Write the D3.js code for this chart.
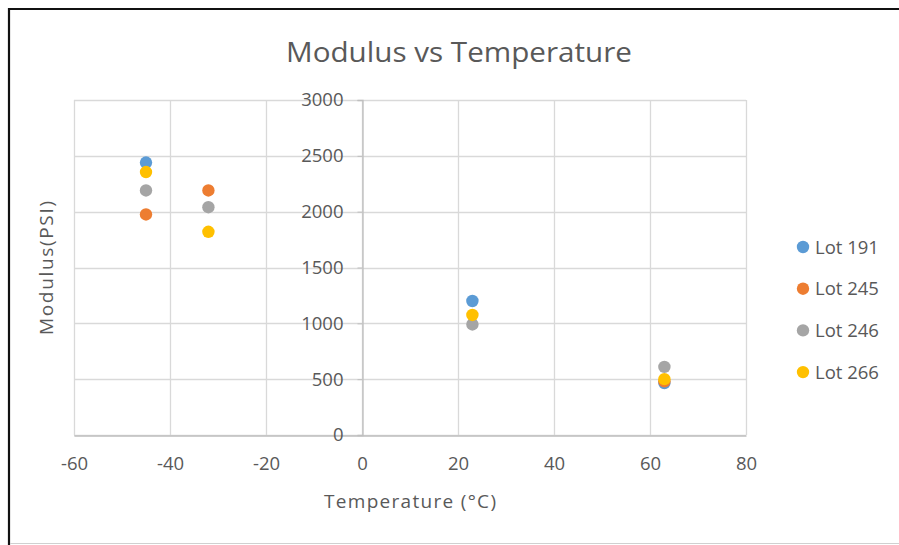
<!DOCTYPE html>
<html>
<head>
<meta charset="utf-8">
<script src="https://cdn.jsdelivr.net/npm/d3@7"></script>
<style>
  html, body { margin: 0; padding: 0; background: #fff; }
  svg { display: block; font-family: "Open Sans", "Noto Sans", sans-serif; }
</style>
</head>
<body>
<svg id="chart" width="899" height="545"></svg>
<script>
// Modulus measurements per lot at each test temperature
const temperatures = [-45, -32, 23, 63];
const lots = ["Lot 191", "Lot 245", "Lot 246", "Lot 266"];
const lot191 = [2440, null, 1200, 465];
const lot245 = [1975, 2190, null, 480];
const lot246 = [2190, 2040, 990, 610];
const lot266 = [2355, 1820, 1075, 500];
const lotColors = ["#5B9BD5", "#ED7D31", "#A5A5A5", "#FFC000"];
const xTicks = [-60, -40, -20, 0, 20, 40, 60, 80];
const yTicks = [0, 500, 1000, 1500, 2000, 2500, 3000];

const seriesValues = [lot191, lot245, lot246, lot266];
const series = lots.map((name, i) => ({
  name,
  color: lotColors[i],
  points: temperatures
    .map((t, j) => ({ t, v: seriesValues[i][j] }))
    .filter(d => d.v !== null)
}));

const svg = d3.select("#chart");
const textColor = "#595959";
const gridColor = "#D9D9D9";
const plainNumber = d => String(d);

// outer frame
svg.append("line").attr("x1", 8).attr("x2", 899).attr("y1", 9).attr("y2", 9)
  .attr("stroke", "#111").attr("stroke-width", 2.2);
svg.append("line").attr("x1", 9).attr("x2", 9).attr("y1", 8).attr("y2", 545)
  .attr("stroke", "#111").attr("stroke-width", 2.2);
svg.append("line").attr("x1", 10).attr("x2", 899).attr("y1", 543.5).attr("y2", 543.5)
  .attr("stroke", "#D0D0D0").attr("stroke-width", 1);

const plot = { left: 74, right: 746, top: 100, bottom: 435 };
const x = d3.scaleLinear().domain([-60, 80]).range([plot.left, plot.right]);
const y = d3.scaleLinear().domain([0, 3000]).range([plot.bottom, plot.top]);

// gridlines
const grid = svg.append("g");
grid.selectAll("line.h").data(yTicks).join("line")
  .attr("x1", plot.left).attr("x2", plot.right)
  .attr("y1", d => Math.round(y(d)) + 0.5).attr("y2", d => Math.round(y(d)) + 0.5)
  .attr("stroke", gridColor).attr("stroke-width", 1.3);
grid.selectAll("line.v").data(xTicks).join("line")
  .attr("y1", plot.top).attr("y2", plot.bottom)
  .attr("x1", d => Math.round(x(d)) + 0.5).attr("x2", d => Math.round(x(d)) + 0.5)
  .attr("stroke", gridColor).attr("stroke-width", 1.3);

// bottom axis
const xAxis = svg.append("g")
  .attr("transform", `translate(0,${plot.bottom + 0.5})`)
  .call(d3.axisBottom(x).tickValues(xTicks).tickSize(0).tickPadding(21).tickFormat(plainNumber));
xAxis.select(".domain").attr("stroke", "#BFBFBF").attr("stroke-width", 1.3);
xAxis.selectAll("text").attr("fill", textColor).attr("font-size", 18.5).attr("font-family", "Open Sans");

// vertical axis crossing at x = 0
const yAxis = svg.append("g")
  .attr("transform", `translate(${Math.round(x(0)) + 0.5},0)`)
  .call(d3.axisLeft(y).tickValues(yTicks).tickSize(5).tickPadding(14).tickFormat(plainNumber));
yAxis.select(".domain").attr("stroke", "#BFBFBF").attr("stroke-width", 1.3);
yAxis.selectAll(".tick line").attr("stroke", "#BFBFBF").attr("x1", -5).attr("x2", 0);
yAxis.selectAll("text").attr("fill", textColor).attr("font-size", 18.5).attr("font-family", "Open Sans");

// markers
series.forEach(s => {
  svg.append("g").selectAll("circle").data(s.points).join("circle")
    .attr("cx", d => x(d.t)).attr("cy", d => y(d.v)).attr("r", 6.2)
    .attr("fill", s.color);
});

// title
svg.append("text").attr("x", 459).attr("y", 62)
  .attr("text-anchor", "middle").attr("fill", textColor)
  .attr("font-size", 28).attr("textLength", 346).attr("lengthAdjust", "spacingAndGlyphs")
  .text("Modulus vs Temperature");

// axis titles
svg.append("text").attr("x", 410).attr("y", 508)
  .attr("text-anchor", "middle").attr("fill", textColor).attr("font-size", 19)
  .attr("textLength", 172).attr("lengthAdjust", "spacing")
  .text("Temperature (°C)");
svg.append("text")
  .attr("transform", "translate(53,268) rotate(-90)")
  .attr("text-anchor", "middle").attr("fill", textColor).attr("font-size", 19)
  .attr("textLength", 134).attr("lengthAdjust", "spacing")
  .text("Modulus(PSI)");

// legend
const legend = svg.append("g").selectAll("g").data(series).join("g")
  .attr("transform", (d, i) => `translate(803,${247 + i * 41.7})`);
legend.append("circle").attr("r", 6.2).attr("fill", d => d.color);
legend.append("text").attr("x", 12).attr("y", 6.5)
  .attr("fill", textColor).attr("font-size", 18.5)
  .text(d => d.name);
</script>
</body>
</html>
